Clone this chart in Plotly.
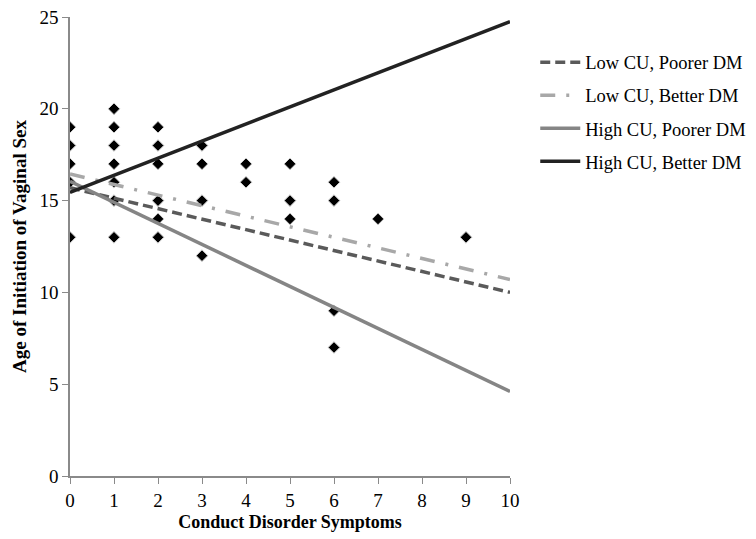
import plotly.graph_objects as go

# Scatter data (Conduct Disorder Symptoms vs Age of Initiation)
pts_x = [0, 0, 0, 0, 0,
         1, 1, 1, 1, 1, 1, 1,
         2, 2, 2, 2, 2, 2,
         3, 3, 3, 3,
         4, 4,
         5, 5, 5,
         6, 6, 6, 6,
         7,
         9]
pts_y = [19, 18, 17, 16, 13,
         20, 19, 18, 17, 16, 15, 13,
         19, 18, 17, 15, 14, 13,
         18, 17, 15, 12,
         17, 16,
         17, 15, 14,
         16, 15, 9, 7,
         14,
         13]

# Regression lines (endpoints at x = 0 and x = 10)
line_x = [0, 10]
low_cu_poorer = [15.7, 10.0]
low_cu_better = [16.45, 10.7]
high_cu_poorer = [16.05, 4.6]
high_cu_better = [15.45, 24.75]

series_names = ["Low CU, Poorer DM", "Low CU, Better DM",
                "High CU, Poorer DM", "High CU, Better DM"]
x_ticks = list(range(0, 11))
y_ticks = [0, 5, 10, 15, 20, 25]

fig = go.Figure()

fig.add_trace(go.Scatter(
    x=pts_x, y=pts_y, mode="markers", showlegend=False,
    marker=dict(symbol="diamond", size=9, color="black",
                line=dict(color="#d0d0d0", width=1)),
))

styles = [
    dict(color="#5a5a5a", width=3.5, dash="10px,5px"),
    dict(color="#a8a8a8", width=3.5, dash="15px,11px,3px,11px"),
    dict(color="#858585", width=3.5, dash="solid"),
    dict(color="#222222", width=3.5, dash="solid"),
]
for i, (name, ys, st) in enumerate(zip(series_names,
                        [low_cu_poorer, low_cu_better, high_cu_poorer, high_cu_better],
                        styles)):
    fig.add_trace(go.Scatter(x=line_x, y=ys, mode="lines", name=name, line=st,
                             legendgroup=f"g{i}"))

font_family = "Liberation Serif, Times New Roman, serif"

fig.update_layout(
    width=756, height=539,
    margin=dict(l=70, r=246, t=17, b=63),
    paper_bgcolor="white", plot_bgcolor="white",
    font=dict(family=font_family, size=19, color="black"),
    legend=dict(x=0.708, y=0.919, xref="container", yref="container",
                xanchor="left", yanchor="top",
                font=dict(family=font_family, size=18.5, color="black"),
                tracegroupgap=6, itemwidth=40, bgcolor="rgba(0,0,0,0)"),
    xaxis=dict(
        range=[0, 10], tickvals=x_ticks, ticks="outside", ticklen=6,
        tickcolor="#8a8a8a", showline=True, linecolor="#8a8a8a", linewidth=1.5,
        showgrid=False, zeroline=False, automargin=False,
        tickfont=dict(family=font_family, size=19, color="black"),
        title=dict(text="<b>Conduct Disorder Symptoms</b>",
                   font=dict(family=font_family, size=18, color="black"),
                   standoff=6),
    ),
    yaxis=dict(
        range=[0, 25], tickvals=y_ticks, ticks="outside", ticklen=6,
        tickcolor="#8a8a8a", showline=True, linecolor="#8a8a8a", linewidth=1.5,
        showgrid=False, zeroline=False, automargin=False,
        tickfont=dict(family=font_family, size=19, color="black"),
        title=dict(text="<b>Age of Initiation of Vaginal Sex</b>",
                   font=dict(family=font_family, size=19, color="black"),
                   standoff=8),
    ),
)

fig.write_html("out.html", config={"displayModeBar": False},
               post_script="document.body.style.margin='0';")
